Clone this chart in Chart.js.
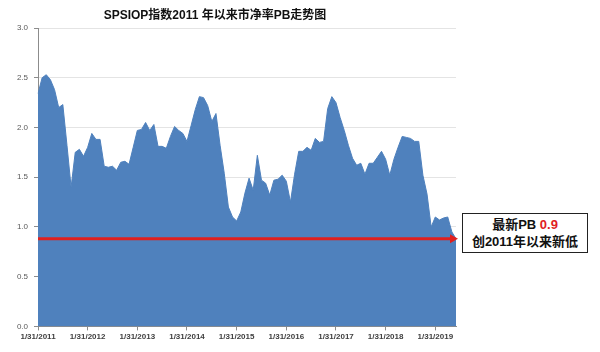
<!DOCTYPE html>
<html>
<head>
<meta charset="utf-8">
<script src="https://cdn.jsdelivr.net/npm/chart.js@4.4.1/dist/chart.umd.min.js"></script>
<style>
  html, body { margin: 0; padding: 0; background: #fff; }
  #wrap { position: relative; width: 600px; height: 352px; }
  #title {
    position: absolute; left: 60px; top: 5px; width: 310px; text-align: center;
    font: bold 12px "Liberation Sans", "Noto Sans CJK SC", sans-serif; color: #111;
  }
  #note {
    position: absolute; left: 462px; top: 213px; width: 126px; height: 40px;
    border: 1.5px solid #222; box-sizing: border-box; background: #fff;
    font: bold 13px "Liberation Sans", "Noto Sans CJK SC", sans-serif; color: #111;
    text-align: center; line-height: 17px; padding-top: 2px;
  }
  #note .red { color: #e0201e; }
</style>
</head>
<body>
<div id="wrap">
  <canvas id="pbChart" width="600" height="352"></canvas>
  <div id="title">SPSIOP指数2011 年以来市净率PB走势图</div>
  <div id="note">最新PB <span class="red">0.9</span><br>创2011年以来新低</div>
</div>
<script>
// monthly PB, Jan 2011 .. Jun 2019
const pbValues = [
  2.34, 2.50, 2.53, 2.48, 2.38, 2.20, 2.23, 1.82, 1.40, 1.75, 1.78, 1.71,
  1.80, 1.94, 1.88, 1.88, 1.61, 1.60, 1.61, 1.57, 1.65, 1.66, 1.63, 1.80,
  1.97, 1.98, 2.05, 1.97, 2.03, 1.81, 1.81, 1.79, 1.91, 2.01, 1.97, 1.94,
  1.86, 2.02, 2.18, 2.31, 2.30, 2.22, 2.06, 2.14, 1.82, 1.54, 1.20, 1.10,
  1.06, 1.15, 1.34, 1.49, 1.37, 1.72, 1.47, 1.44, 1.32, 1.47, 1.48, 1.52,
  1.46, 1.25, 1.53, 1.76, 1.76, 1.80, 1.77, 1.89, 1.85, 1.86, 2.19, 2.31,
  2.25, 2.10, 1.97, 1.82, 1.69, 1.62, 1.64, 1.53, 1.64, 1.64, 1.70, 1.76,
  1.68, 1.52, 1.68, 1.80, 1.91, 1.90, 1.89, 1.86, 1.86, 1.52, 1.33, 1.00,
  1.10, 1.07, 1.09, 1.10, 0.95, 0.88
];
const latestPB = 0.88;
const yTicks = [0, 0.5, 1.0, 1.5, 2.0, 2.5, 3.0];

// month-end date labels
const monthLabels = [];
for (let i = 0; i < pbValues.length; i++) {
  const y = 2011 + Math.floor(i / 12), m = i % 12;
  const last = new Date(y, m + 1, 0).getDate();
  monthLabels.push((m + 1) + '/' + last + '/' + y);
}

const lowLine = {
  id: 'lowLine',
  afterDatasetsDraw(chart) {
    const { ctx, chartArea } = chart;
    const y = chart.scales.y.getPixelForValue(latestPB);
    const x0 = chartArea.left, x1 = chartArea.right + 1;
    ctx.save();
    ctx.strokeStyle = '#e0201e';
    ctx.fillStyle = '#e0201e';
    ctx.lineWidth = 3;
    ctx.beginPath();
    ctx.moveTo(x0, y);
    ctx.lineTo(x1 - 5, y);
    ctx.stroke();
    ctx.beginPath();
    ctx.moveTo(x1 - 7, y - 4.5);
    ctx.lineTo(x1 + 1, y);
    ctx.lineTo(x1 - 7, y + 4.5);
    ctx.closePath();
    ctx.fill();
    ctx.restore();
  }
};

const tickFont = { family: '"Liberation Sans", Arial, sans-serif', size: 8 };

new Chart(document.getElementById('pbChart'), {
  type: 'line',
  data: {
    labels: monthLabels,
    datasets: [{
      data: pbValues,
      fill: 'origin',
      backgroundColor: '#4f81bd',
      borderColor: '#4f81bd',
      borderWidth: 1,
      pointRadius: 0,
      tension: 0
    }]
  },
  options: {
    responsive: false,
    animation: false,
    layout: { padding: { left: 0, right: 144, top: 28, bottom: 8 } },
    plugins: { legend: { display: false }, tooltip: { enabled: false }, title: { display: false } },
    scales: {
      x: {
        offset: false,
        afterBuildTicks: (s) => { s.ticks = s.ticks.filter(t => t.value % 12 === 0); },
        ticks: {
          autoSkip: false, maxRotation: 0, padding: 2, color: '#404040',
          font: { ...tickFont, weight: 'bold' },
          callback: function (v) { return this.getLabelForValue(v); }
        },
        grid: { drawOnChartArea: false, tickLength: 4, tickColor: '#8c8c8c' },
        border: { color: '#8c8c8c', width: 1 }
      },
      y: {
        min: 0, max: 3,
        afterBuildTicks: (s) => { s.ticks = yTicks.map(v => ({ value: v })); },
        afterFit: (s) => { s.width = 38; },
        ticks: {
          padding: 6, color: '#595959', font: tickFont,
          callback: (v) => v.toFixed(1)
        },
        grid: { color: '#e4e4e4', tickLength: 4, tickColor: '#8c8c8c' },
        border: { color: '#8c8c8c', width: 1 }
      }
    }
  },
  plugins: [lowLine]
});
</script>
</body>
</html>
